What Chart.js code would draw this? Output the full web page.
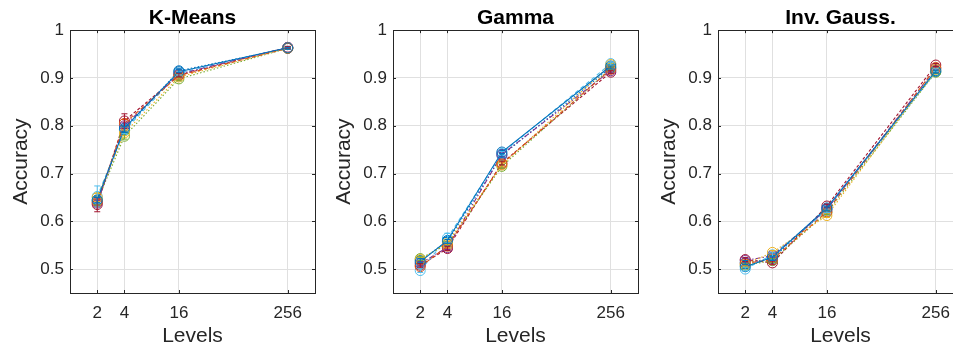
<!DOCTYPE html>
<html>
<head>
<meta charset="utf-8">
<script src="https://cdn.jsdelivr.net/npm/chart.js@4.4.1/dist/chart.umd.min.js"></script>
<style>
  html, body { margin: 0; padding: 0; background: #fff; overflow: hidden; }
  #wrap { position: relative; width: 953px; height: 349px; overflow: hidden; }
  canvas { position: absolute; top: 0; }
</style>
</head>
<body>
<div id="wrap">
  <canvas id="c0" width="323" height="349" style="left:0px"></canvas>
  <canvas id="c1" width="323" height="349" style="left:323px"></canvas>
  <canvas id="c2" width="323" height="349" style="left:648px"></canvas>
</div>
<script>
// quantization levels (x) and y ticks
const levels = [2, 4, 16, 256];
const yTicks = [0.5, 0.6, 0.7, 0.8, 0.9, 1];
const panelTitles = ['K-Means', 'Gamma', 'Inv. Gauss.'];

// one row per run
const kmeansAcc = [
    [0.645, 0.795, 0.913, 0.963],
    [0.640, 0.805, 0.905, 0.962],
    [0.650, 0.785, 0.902, 0.963],
    [0.638, 0.800, 0.908, 0.964],
    [0.642, 0.778, 0.898, 0.962],
    [0.652, 0.790, 0.910, 0.963],
    [0.635, 0.810, 0.906, 0.964],
    [0.644, 0.792, 0.915, 0.962]
];
const kmeansErr = [
    [0.006, 0.006, 0.004, 0.002],
    [0.006, 0.008, 0.004, 0.002],
    [0.008, 0.006, 0.004, 0.002],
    [0.006, 0.006, 0.004, 0.002],
    [0.008, 0.006, 0.004, 0.002],
    [0.022, 0.006, 0.004, 0.002],
    [0.015, 0.015, 0.004, 0.002],
    [0.006, 0.006, 0.004, 0.002]
];

const gammaAcc = [
    [0.515, 0.560, 0.745, 0.925],
    [0.505, 0.548, 0.720, 0.918],
    [0.520, 0.555, 0.718, 0.928],
    [0.512, 0.545, 0.740, 0.915],
    [0.522, 0.552, 0.715, 0.920],
    [0.497, 0.565, 0.742, 0.930],
    [0.508, 0.543, 0.722, 0.912],
    [0.518, 0.558, 0.738, 0.922]
];
const gammaErr = [
    [0.004, 0.006, 0.004, 0.003],
    [0.004, 0.004, 0.004, 0.003],
    [0.004, 0.004, 0.004, 0.003],
    [0.004, 0.004, 0.004, 0.003],
    [0.004, 0.004, 0.004, 0.003],
    [0.004, 0.010, 0.004, 0.003],
    [0.004, 0.004, 0.004, 0.003],
    [0.004, 0.004, 0.004, 0.003]
];

const invGaussAcc = [
    [0.505, 0.525, 0.628, 0.915],
    [0.512, 0.520, 0.620, 0.922],
    [0.510, 0.535, 0.612, 0.918],
    [0.518, 0.528, 0.625, 0.920],
    [0.508, 0.518, 0.618, 0.912],
    [0.500, 0.530, 0.622, 0.916],
    [0.520, 0.513, 0.632, 0.927],
    [0.514, 0.522, 0.626, 0.913]
];
const invGaussErr = [
    [0.004, 0.004, 0.004, 0.003],
    [0.004, 0.004, 0.004, 0.003],
    [0.004, 0.004, 0.004, 0.003],
    [0.004, 0.004, 0.004, 0.003],
    [0.004, 0.004, 0.004, 0.003],
    [0.004, 0.004, 0.004, 0.003],
    [0.004, 0.004, 0.004, 0.003],
    [0.004, 0.004, 0.004, 0.003]
];

// MATLAB default line colors and styles
const seriesColors = ['#0072BD', '#D95319', '#EDB120', '#7E2F8E', '#77AC30', '#4DBEEE', '#A2142F', '#0072BD'];
const seriesDashes = [[], [4, 3], [1.5, 2], [5, 2, 1.5, 2], [1.5, 2], [4, 3], [3, 2], [1.5, 2]];

const axisColor = '#262626';
const gridColor = '#e0e0e0';
const fontFamily = "'Liberation Sans', Arial, Helvetica, sans-serif";

// error bars drawn from the dataset's errors array
const errorBarPlugin = {
    id: 'errorBars',
    afterDatasetsDraw(chart) {
        const ctx = chart.ctx;
        const xs = chart.scales.x, ys = chart.scales.y;
        ctx.save();
        chart.data.datasets.forEach(ds => {
            ctx.strokeStyle = ds.borderColor;
            ctx.lineWidth = 1;
            ds.data.forEach((p, i) => {
                const e = ds.errors[i];
                const px = xs.getPixelForValue(p.x);
                const top = ys.getPixelForValue(p.y + e);
                const bot = ys.getPixelForValue(p.y - e);
                ctx.beginPath();
                ctx.moveTo(px, top); ctx.lineTo(px, bot);
                ctx.moveTo(px - 3, top); ctx.lineTo(px + 3, top);
                ctx.moveTo(px - 3, bot); ctx.lineTo(px + 3, bot);
                ctx.stroke();
            });
        });
        ctx.restore();
    }
};

// axes box with inward tick marks
const boxPlugin = {
    id: 'axesBox',
    afterDraw(chart) {
        const { ctx, chartArea: a } = chart;
        const xs = chart.scales.x, ys = chart.scales.y;
        ctx.save();
        ctx.strokeStyle = axisColor;
        ctx.lineWidth = 1;
        ctx.strokeRect(Math.round(a.left) + 0.5, Math.round(a.top) + 0.5,
            Math.round(a.right - a.left), Math.round(a.bottom - a.top));
        ctx.beginPath();
        levels.forEach(v => {
            const px = Math.round(xs.getPixelForValue(v)) + 0.5;
            ctx.moveTo(px, a.bottom); ctx.lineTo(px, a.bottom - 3);
            ctx.moveTo(px, a.top); ctx.lineTo(px, a.top + 3);
        });
        yTicks.forEach(v => {
            const py = Math.round(ys.getPixelForValue(v)) + 0.5;
            ctx.moveTo(a.left, py); ctx.lineTo(a.left + 3, py);
            ctx.moveTo(a.right, py); ctx.lineTo(a.right - 3, py);
        });
        ctx.stroke();
        ctx.restore();
    }
};

function makePanel(canvasId, title, acc, err) {
    const datasets = acc.map((row, s) => ({
        data: row.map((v, i) => ({ x: levels[i], y: v })),
        errors: err[s],
        borderColor: seriesColors[s],
        backgroundColor: 'rgba(0,0,0,0)',
        borderWidth: 1.1,
        borderDash: seriesDashes[s],
        pointStyle: 'circle',
        pointRadius: 5,
        pointBorderWidth: 1,
        pointBorderColor: seriesColors[s],
        pointBackgroundColor: 'rgba(0,0,0,0)',
        showLine: true,
        tension: 0
    }));

    new Chart(document.getElementById(canvasId), {
        type: 'scatter',
        data: { datasets },
        options: {
            responsive: false,
            animation: false,
            layout: { padding: { right: 8 } },
            scales: {
                x: {
                    type: 'logarithmic',
                    min: 1,
                    max: 512,
                    afterBuildTicks: scale => { scale.ticks = levels.map(v => ({ value: v })); },
                    afterFit: scale => { scale.height = 56; },
                    ticks: {
                        callback: v => String(v),
                        color: axisColor,
                        padding: 10,
                        maxRotation: 0,
                        autoSkip: false,
                        font: { family: fontFamily, size: 17 }
                    },
                    grid: { color: gridColor, drawTicks: false },
                    border: { display: false },
                    title: {
                        display: true,
                        text: 'Levels',
                        color: axisColor,
                        padding: { top: 0, bottom: 0 },
                        font: { family: fontFamily, size: 21 }
                    }
                },
                y: {
                    min: 0.45,
                    max: 1,
                    afterBuildTicks: scale => { scale.ticks = yTicks.map(v => ({ value: v })); },
                    afterFit: scale => { scale.width = 70; },
                    ticks: {
                        callback: v => String(v),
                        color: axisColor,
                        padding: 6,
                        font: { family: fontFamily, size: 17 }
                    },
                    grid: { color: gridColor, drawTicks: false },
                    border: { display: false },
                    title: {
                        display: true,
                        text: 'Accuracy',
                        color: axisColor,
                        padding: { top: 9, bottom: 0 },
                        font: { family: fontFamily, size: 21 }
                    }
                }
            },
            plugins: {
                legend: { display: false },
                tooltip: { enabled: false },
                title: {
                    display: true,
                    text: title,
                    fullSize: false,
                    color: '#000',
                    padding: { top: 6, bottom: 0 },
                    font: { family: fontFamily, size: 21, weight: 'bold', lineHeight: 1.15 }
                }
            }
        },
        plugins: [errorBarPlugin, boxPlugin]
    });
}

makePanel('c0', panelTitles[0], kmeansAcc, kmeansErr);
makePanel('c1', panelTitles[1], gammaAcc, gammaErr);
makePanel('c2', panelTitles[2], invGaussAcc, invGaussErr);
</script>
</body>
</html>
